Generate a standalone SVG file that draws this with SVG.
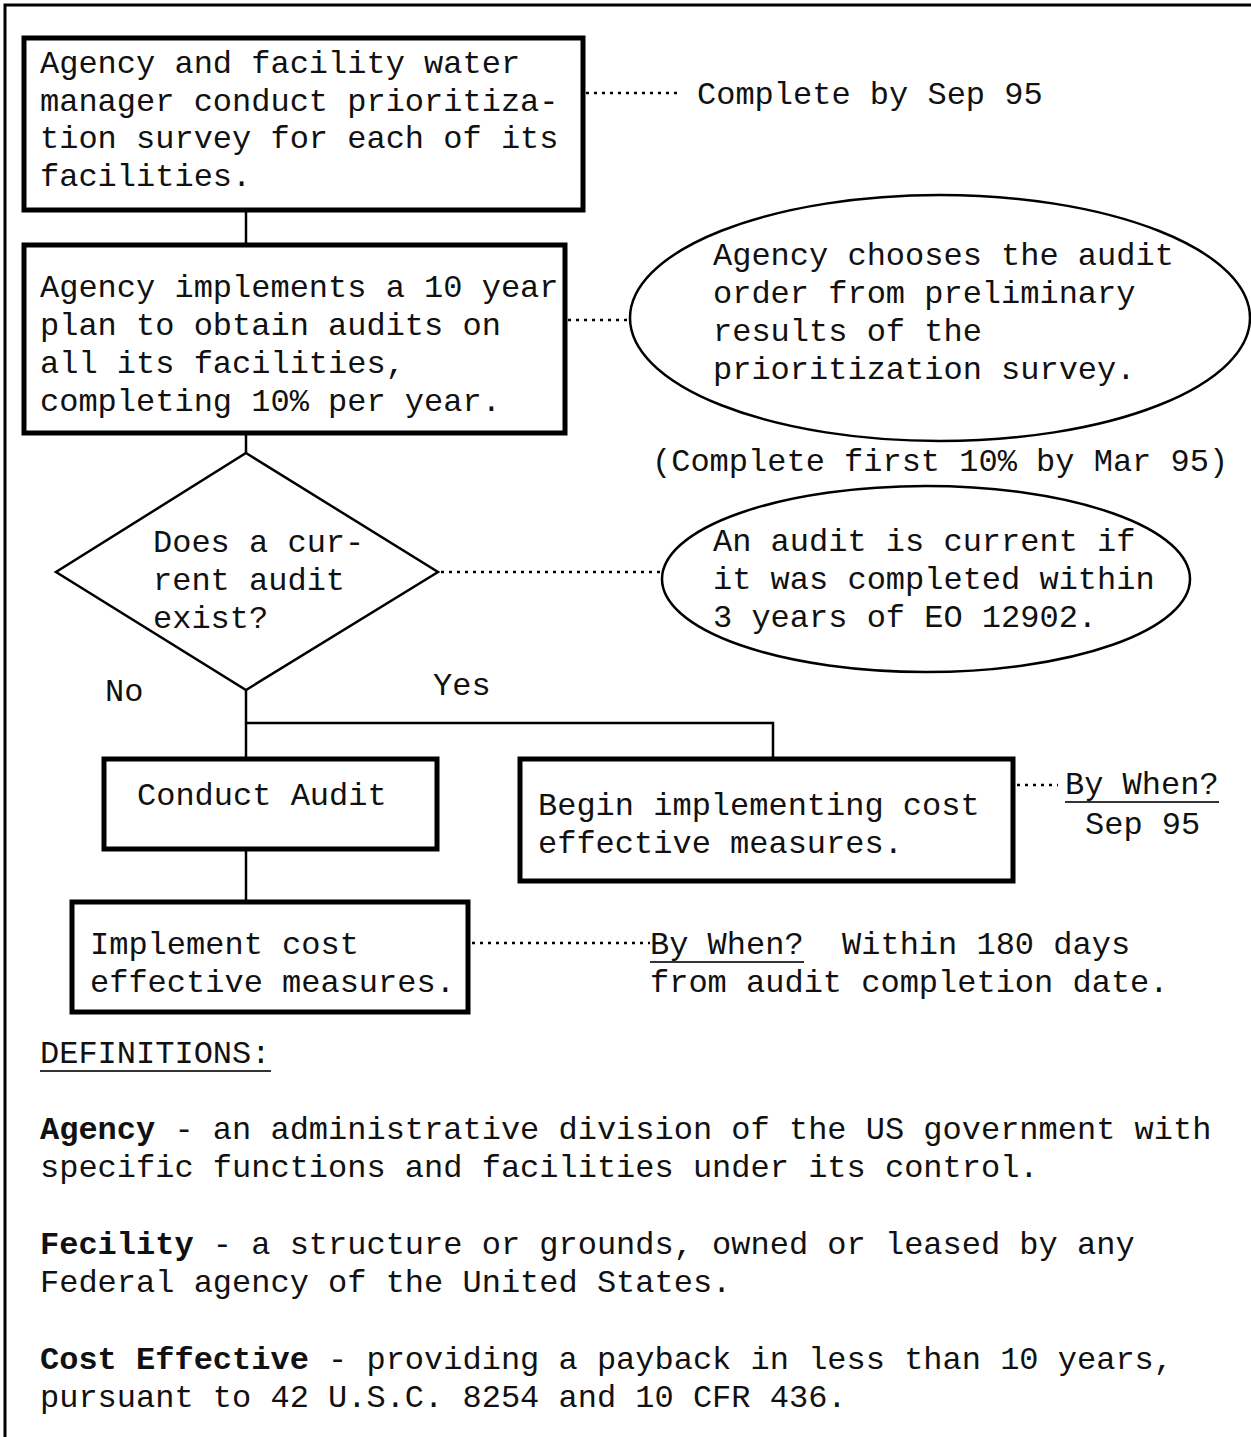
<svg xmlns="http://www.w3.org/2000/svg" width="1251" height="1437" viewBox="0 0 1251 1437">
<style>
text{font-family:"Liberation Mono","Courier New",monospace;font-size:32px;fill:#111;}
.b{font-weight:bold;}
.box{fill:#fff;stroke:#000;stroke-width:5;}
.shape{fill:#fff;stroke:#000;stroke-width:2.5;}
.line{stroke:#000;stroke-width:2.5;fill:none;}
.dot{stroke:#000;stroke-width:2.5;stroke-dasharray:3 5;fill:none;}
.ul{stroke:#333;stroke-width:2;}
</style>
<rect x="0" y="0" width="1251" height="1437" fill="#fff"/>
<rect x="5" y="5" width="1400" height="1600" fill="none" stroke="#000" stroke-width="3"/>

<g id="connectors">
  <line class="line" x1="246" y1="210" x2="246" y2="245"/>
  <line class="line" x1="246" y1="433" x2="246" y2="453"/>
  <line class="line" x1="246" y1="690" x2="246" y2="759"/>
  <polyline class="line" points="246,723 773,723 773,759"/>
  <line class="line" x1="246" y1="849" x2="246" y2="902"/>
  <line class="dot" x1="586" y1="93" x2="680" y2="93"/>
  <line class="dot" x1="568" y1="320" x2="631" y2="320"/>
  <line class="dot" x1="441" y1="572" x2="662" y2="572"/>
  <line class="dot" x1="1017" y1="785" x2="1058" y2="785"/>
  <line class="dot" x1="472" y1="943" x2="650" y2="943"/>
</g>

<g id="n1">
  <rect class="box" x="24" y="38" width="559" height="172"/>
  <text x="40" y="73">Agency and facility water</text>
  <text x="40" y="111">manager conduct prioritiza-</text>
  <text x="40" y="148">tion survey for each of its</text>
  <text x="40" y="186">facilities.</text>
</g>
<g id="n1note"><text x="697" y="104">Complete by Sep 95</text></g>

<g id="n2">
  <rect class="box" x="24" y="245" width="541" height="188"/>
  <text x="40" y="297">Agency implements a 10 year</text>
  <text x="40" y="335">plan to obtain audits on</text>
  <text x="40" y="373">all its facilities,</text>
  <text x="40" y="411">completing 10% per year.</text>
</g>

<g id="e1">
  <ellipse class="shape" cx="940" cy="318" rx="310" ry="123"/>
  <text x="713" y="265">Agency chooses the audit</text>
  <text x="713" y="303">order from preliminary</text>
  <text x="713" y="341">results of the</text>
  <text x="713" y="379">prioritization survey.</text>
</g>
<g id="e1note"><text x="652" y="471">(Complete first 10% by Mar 95)</text></g>

<g id="d1">
  <polygon class="shape" points="246,453 438,572 246,690 56,572"/>
  <text x="153" y="552">Does a cur-</text>
  <text x="153" y="590">rent audit</text>
  <text x="153" y="628">exist?</text>
</g>
<g id="lblNo"><text x="105" y="701">No</text></g>
<g id="lblYes"><text x="433" y="695">Yes</text></g>

<g id="e2">
  <ellipse class="shape" cx="926" cy="579" rx="264" ry="93"/>
  <text x="713" y="551">An audit is current if</text>
  <text x="713" y="589">it was completed within</text>
  <text x="713" y="627">3 years of EO 12902.</text>
</g>

<g id="n3">
  <rect class="box" x="104" y="759" width="333" height="90"/>
  <text x="137" y="805">Conduct Audit</text>
</g>

<g id="n4">
  <rect class="box" x="520" y="759" width="493" height="122"/>
  <text x="538" y="815">Begin implementing cost</text>
  <text x="538" y="853">effective measures.</text>
</g>
<g id="n4note">
  <text x="1065" y="794">By When?</text>
  <line class="ul" x1="1065" y1="802" x2="1219" y2="802"/>
  <text x="1085" y="834">Sep 95</text>
</g>

<g id="n5">
  <rect class="box" x="72" y="902" width="396" height="110"/>
  <text x="90" y="954">Implement cost</text>
  <text x="90" y="992">effective measures.</text>
</g>
<g id="n5note">
  <text x="650" y="954" xml:space="preserve">By When?  Within 180 days</text>
  <line class="ul" x1="650" y1="962" x2="804" y2="962"/>
  <text x="650" y="992">from audit completion date.</text>
</g>

<g id="definitions">
  <text x="40" y="1063">DEFINITIONS:</text>
  <line class="ul" x1="40" y1="1071" x2="271" y2="1071"/>
  <text x="40" y="1139"><tspan class="b">Agency</tspan> - an administrative division of the US government with</text>
  <text x="40" y="1177">specific functions and facilities under its control.</text>
  <text x="40" y="1254"><tspan class="b">Fecility</tspan> - a structure or grounds, owned or leased by any</text>
  <text x="40" y="1292">Federal agency of the United States.</text>
  <text x="40" y="1369"><tspan class="b">Cost Effective</tspan> - providing a payback in less than 10 years,</text>
  <text x="40" y="1407">pursuant to 42 U.S.C. 8254 and 10 CFR 436.</text>
</g>
</svg>
